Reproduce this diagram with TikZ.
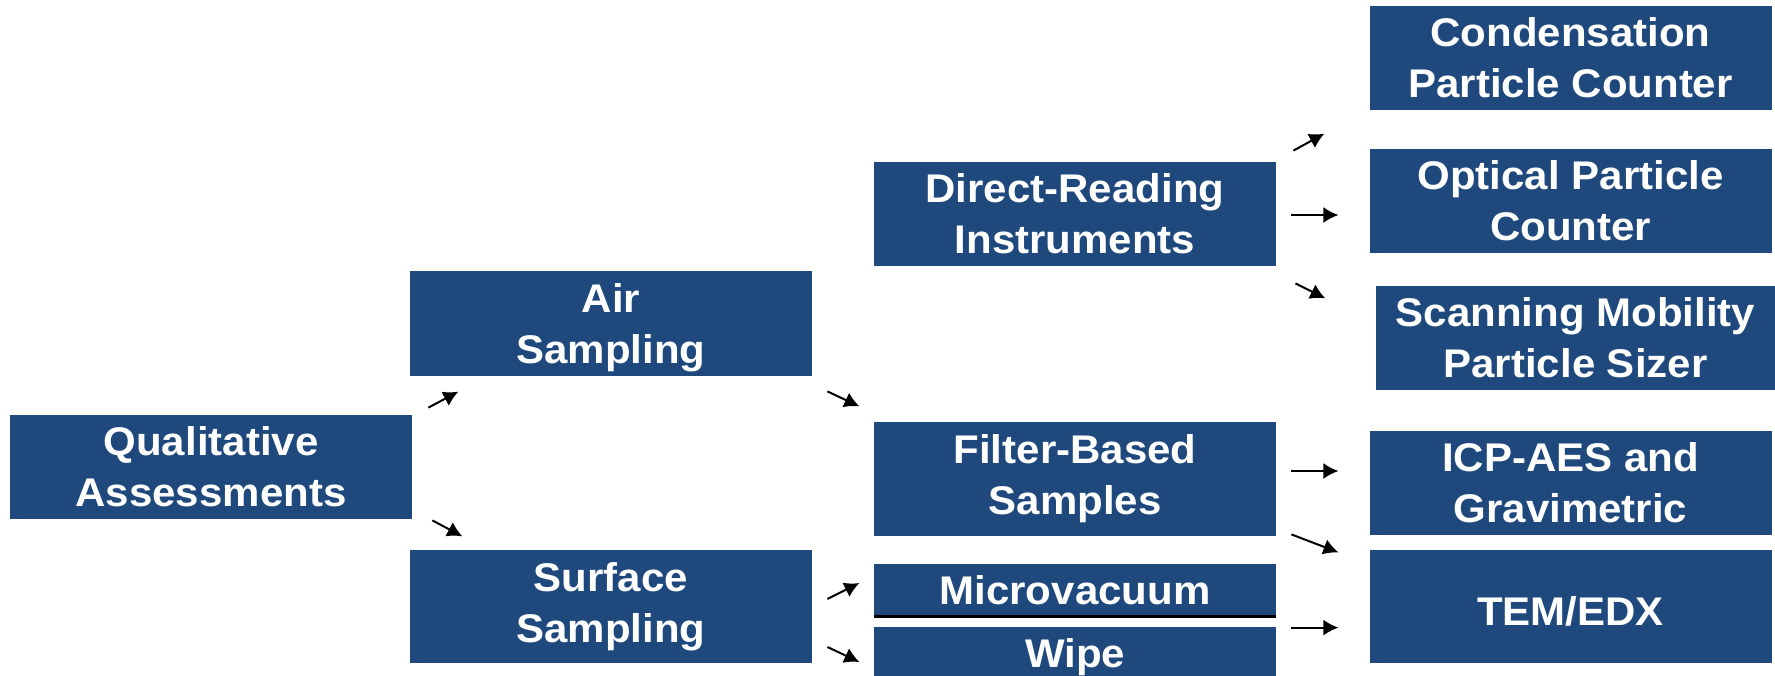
\documentclass[tikz,border=0pt]{standalone}
\usepackage{fontspec}
\newfontfamily\arialbold{Liberation Sans}[FakeStretch=1.05]
\usetikzlibrary{arrows.meta}
\definecolor{boxblue}{RGB}{31,73,125}
\newlength\boxdp
\setlength\boxdp{0pt}
\newcommand{\boxstrut}{\rule[-\boxdp]{0pt}{25.5pt}}
\tikzset{box depth/.code={\setlength\boxdp{#1}}}
\tikzstyle{box} = [rectangle,fill=boxblue,text=white,align=center,inner sep=0pt,minimum width=201pt,minimum height=52pt,font=\arialbold\bfseries\fontsize{20pt}{25.5pt}\selectfont,execute at begin node=\boxstrut,execute at end node=\boxstrut]
\tikzstyle{arr} = [line width=1pt,-{Latex[length=7.5pt,width=8pt]}]

\begin{document}
\begin{tikzpicture}[x=0.5pt,y=-0.5pt]
    \useasboundingbox (0,0) rectangle (1775,675);
    % first and second level
    \node [box] (qa) at (211,467) {Qualitative\\Assessments};
    \node [box,minimum height=52.5pt] (air) at (611,323.5) {Air\\\smash{Sampling}};
    \node [box,minimum height=56.5pt] (surf) at (611,606.5) {Surface\\Sampling};
    % methods
    \node [box] (drd) at (1075,214) {Direct-Reading\\Instruments};
    \node [box,minimum height=57pt] (filt) at (1075,479) {Filter-Based\\Samples};
    \node [box,minimum height=23.5pt,box depth=5.5pt] (micro) at (1075,589.5) {Microvacuum};
    \node [box,minimum height=22.5pt,box depth=5.5pt] (wipe) at (1075,652.5) {Wipe};
    \draw [line width=1.5pt] ([yshift=-0.75pt]micro.south west) -- ([yshift=-0.75pt]micro.south east);
    % analysis
    \node [box] (cond) at (1570.5,58) {Condensation\\Particle Counter};
    \node [box] (opt) at (1570.5,201) {Optical Particle\\Counter};
    \node [box,minimum width=199.5pt] (scan) at (1575.5,338) {Scanning Mobility\\Particle Sizer};
    \node [box] (icp) at (1570.5,483) {ICP-AES and\\Gravimetric};
    \node [box,minimum height=56.5pt,box depth=3.25pt] (tem) at (1570.5,606.5) {TEM/EDX};
    % arrows
    \draw [arr] ([shift={(16,-7)}]qa.north east) -- ++(30,-16);
    \draw [arr] ([shift={(20,1)}]qa.south east) -- ++(30,16);
    \draw [arr] ([shift={(15,15)}]air.south east) -- ++(32,15);
    \draw [arr] ([shift={(15,-7.5)}]surf.east) -- ++(32,-16);
    \draw [arr] ([shift={(15,40.5)}]surf.east) -- ++(32,15);
    \draw [arr] ([shift={(17,-11)}]drd.north east) -- ++(31,-17);
    \draw [arr] ([shift={(15,1)}]drd.east) -- ++(47,0);
    \draw [arr] ([shift={(19,17)}]drd.south east) -- ++(30,15);
    \draw [arr] ([shift={(15,-8)}]filt.east) -- ++(47,0);
    \draw [arr] ([shift={(15,-2)}]filt.south east) -- ++(47,18);
    \draw [arr] ([shift={(15,1)}]wipe.north east) -- ++(47,0);
\end{tikzpicture}
\end{document}
